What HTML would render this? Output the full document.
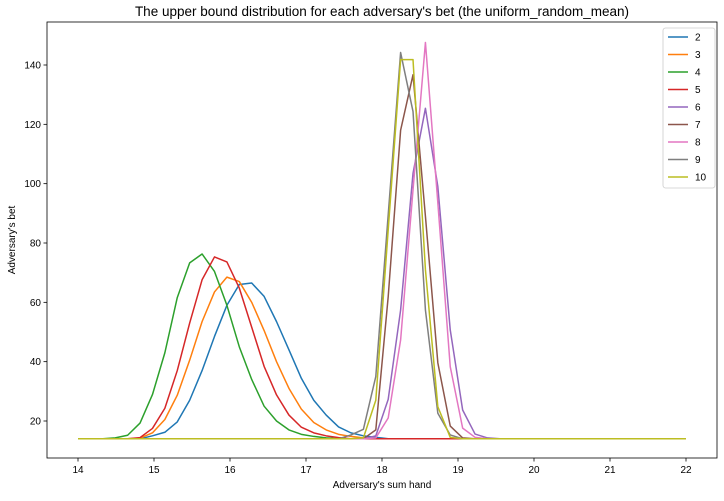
<!DOCTYPE html>
<html><head><meta charset="utf-8"><style>
body{margin:0;background:#fff;}
svg text{font-family:"Liberation Sans","DejaVu Sans",sans-serif;fill:#000;}
</style></head><body>
<svg id="chart" width="724" height="496" xmlns="http://www.w3.org/2000/svg"></svg>
<script>
const seriesNames=["2","3","4","5","6","7","8","9","10"];
const xTicks=[14,15,16,17,18,19,20,21,22];
const yTicks=[20,40,60,80,100,120,140];
const colors=["#1f77b4","#ff7f0e","#2ca02c","#d62728","#9467bd","#8c564b","#e377c2","#7f7f7f","#bcbd22"];
const s2={5:14,6:15,7:16.2,8:19.7,9:27,10:37,11:48.5,12:59,13:66,14:66.5,15:62,16:53.5,17:44,18:34.4,19:27,20:22,21:18,22:16,23:15,24:14.5};
const s3={5:14.2,6:16,7:20.5,8:28.7,9:40.5,10:53.5,11:63.5,12:68.5,13:67,14:60,15:50.5,16:40,17:31,18:24,19:19.5,20:17,21:15.5,22:14.8,23:14.3};
const s4={3:14.3,4:15.2,5:19.3,6:28.9,7:43,8:61.6,9:73.3,10:76.3,11:70.4,12:59,13:45,14:34,15:25,16:20,17:17,18:15.5,19:14.8,20:14.3};
const s5={5:14.4,6:17.5,7:24.3,8:37,9:53,10:67.6,11:75.3,12:73.6,13:64.8,14:51.6,15:38.4,16:28.8,17:22,18:17.9,19:16,20:15,21:14.4};
const s6={24:15,25:27.3,26:57.4,27:103.5,28:125.4,29:99,30:50.7,31:23.7,32:15.6,33:14.3};
const s7={24:17,25:61.9,26:118,27:136.7,28:89,29:39.6,30:18.3,31:14.3};
const s8={24:14.3,25:21,26:47.3,27:97.9,28:147.6,29:93.5,30:38.3,31:17.6,32:14.5};
const s9={22:15.3,23:17.2,24:35,25:89.5,26:144.2,27:124.3,28:57.4,29:22.6,30:15.3};
const s10={23:14.3,24:27,25:84.4,26:141.8,27:141.8,28:71,29:24.8,30:14.5};
const sparse=[s2,s3,s4,s5,s6,s7,s8,s9,s10];
const nPoints=50, baseline=14;

const svg=document.getElementById('chart');
const NS="http://www.w3.org/2000/svg";
const L=47,R=717,T=22,B=458;
function xs(v){return 78+(v-14)*76;}
function ys(v){return 421-(v-20)*(356/120);}
function mk(tag,attrs,parent){const e=document.createElementNS(NS,tag);for(const k in attrs)e.setAttribute(k,attrs[k]);(parent||svg).appendChild(e);return e;}

const title=mk('text',{x:(L+R)/2,y:16,'text-anchor':'middle','font-size':13.5});
title.textContent="The upper bound distribution for each adversary's bet (the uniform_random_mean)";



const g=mk('g',{});


seriesNames.forEach((n,si)=>{
  let pts=[];
  for(let i=0;i<nPoints;i++){
    const xv=14+i*8/49;
    const yv=(sparse[si][i]!==undefined)?sparse[si][i]:baseline;
    pts.push(xs(xv).toFixed(2)+","+ys(yv).toFixed(2));
  }
  const p=mk('polyline',{points:pts.join(' '),fill:'none',stroke:colors[si],'stroke-width':1.5,'stroke-linejoin':'round'},g);
  
  
});

const frame=mk('rect',{x:L,y:T,width:R-L,height:B-T,fill:'none',stroke:'#000','stroke-width':0.8});



xTicks.forEach(t=>{
  const x=xs(t);
  mk('line',{x1:x,x2:x,y1:B,y2:B+3.5,stroke:'#000','stroke-width':0.8});
  const tx=mk('text',{x:x,y:B+15,'text-anchor':'middle','font-size':10});
  tx.textContent=t;
  
  
});
yTicks.forEach(t=>{
  const y=ys(t);
  mk('line',{x1:L-3.5,x2:L,y1:y,y2:y,stroke:'#000','stroke-width':0.8});
  const tx=mk('text',{x:L-6,y:y+3.5,'text-anchor':'end','font-size':10});
  tx.textContent=t;
  
  
});
const xl=mk('text',{x:(L+R)/2,y:488,'text-anchor':'middle','font-size':10});
xl.textContent="Adversary's sum hand";


const yl=mk('text',{x:15,y:(T+B)/2,'text-anchor':'middle','font-size':10,transform:'rotate(-90 15 '+((T+B)/2)+')'});
yl.textContent="Adversary's bet";



const lg=mk('g',{});


mk('rect',{x:663,y:28,width:52,height:160,rx:2.5,fill:'#fff','fill-opacity':0.8,stroke:'#ccc','stroke-width':0.8},lg);
seriesNames.forEach((n,si)=>{
  const y=37+si*17.5;
  const e=mk('g',{},lg);
  
  
  mk('line',{x1:668,x2:688,y1:y,y2:y,stroke:colors[si],'stroke-width':1.5},e);
  const t=mk('text',{x:695,y:y+3.5,'font-size':10},e);
  t.textContent=n;
});
</script>
</body></html>
